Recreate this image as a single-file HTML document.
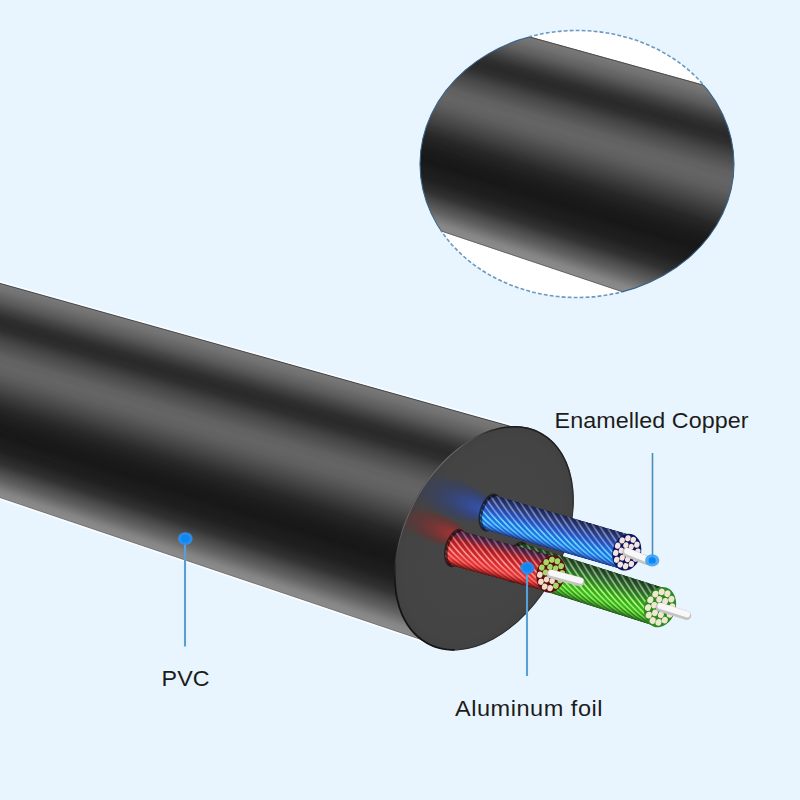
<!DOCTYPE html><html><head><meta charset="utf-8"><style>html,body{margin:0;padding:0;background:#e9f5fe;}svg{display:block}text{font-family:"Liberation Sans",sans-serif;}</style></head><body>
<svg width="800" height="800" viewBox="0 0 800 800">
<defs>
<clipPath id="body"><polygon points="-5,281.6 514,426.9 452,652 -5,496.3"/></clipPath>
<clipPath id="inset"><ellipse cx="577" cy="164" rx="157" ry="133.5"/></clipPath>
<radialGradient id="faceg" cx="0.5" cy="0.5" r="0.5"><stop offset="0" stop-color="#464646"/><stop offset="0.9" stop-color="#444444"/><stop offset="1" stop-color="#414141"/></radialGradient>
<radialGradient id="glowB" cx="0.6" cy="0.5" r="0.6" fx="0.92" fy="0.5"><stop offset="0" stop-color="#3358c8" stop-opacity="0.9"/><stop offset="0.3" stop-color="#2e4ca8" stop-opacity="0.7"/><stop offset="0.65" stop-color="#2a3f88" stop-opacity="0.35"/><stop offset="1" stop-color="#283c80" stop-opacity="0"/></radialGradient>
<radialGradient id="glowR" cx="0.6" cy="0.5" r="0.6" fx="0.92" fy="0.5"><stop offset="0" stop-color="#d03232" stop-opacity="0.85"/><stop offset="0.3" stop-color="#b02a2a" stop-opacity="0.62"/><stop offset="0.65" stop-color="#8a2424" stop-opacity="0.35"/><stop offset="1" stop-color="#802020" stop-opacity="0"/></radialGradient>
<radialGradient id="dotg" cx="0.5" cy="0.5" r="0.5"><stop offset="0.45" stop-color="#1f86ea"/><stop offset="0.6" stop-color="#3a98ee" stop-opacity="0.8"/><stop offset="1" stop-color="#5aaaf0" stop-opacity="0.35"/></radialGradient>
</defs>
<rect width="800" height="800" fill="#e9f5fe"/>
<g clip-path="url(#inset)">
<rect x="400" y="20" width="360" height="300" fill="#ffffff"/>
<polygon points="400.0,0.7 760.0,100.4 760.0,103.4 400.0,3.4" fill="#797979"/>
<polygon points="400.0,2.5 760.0,102.4 760.0,105.3 400.0,5.2" fill="#777777"/>
<polygon points="400.0,4.3 760.0,104.4 760.0,107.3 400.0,7.0" fill="#747474"/>
<polygon points="400.0,6.1 760.0,106.4 760.0,109.3 400.0,8.8" fill="#727272"/>
<polygon points="400.0,7.9 760.0,108.4 760.0,111.3 400.0,10.6" fill="#6f6f6f"/>
<polygon points="400.0,9.7 760.0,110.3 760.0,113.3 400.0,12.4" fill="#6b6b6b"/>
<polygon points="400.0,11.6 760.0,112.3 760.0,115.3 400.0,14.2" fill="#676767"/>
<polygon points="400.0,13.4 760.0,114.3 760.0,117.2 400.0,16.0" fill="#646464"/>
<polygon points="400.0,15.2 760.0,116.3 760.0,119.2 400.0,17.8" fill="#606060"/>
<polygon points="400.0,17.0 760.0,118.3 760.0,121.2 400.0,19.7" fill="#5c5c5c"/>
<polygon points="400.0,18.8 760.0,120.2 760.0,123.2 400.0,21.5" fill="#575757"/>
<polygon points="400.0,20.6 760.0,122.2 760.0,125.2 400.0,23.3" fill="#525252"/>
<polygon points="400.0,22.4 760.0,124.2 760.0,127.1 400.0,25.1" fill="#4d4d4d"/>
<polygon points="400.0,24.2 760.0,126.2 760.0,129.1 400.0,26.9" fill="#474747"/>
<polygon points="400.0,26.0 760.0,128.2 760.0,131.1 400.0,28.7" fill="#434343"/>
<polygon points="400.0,27.8 760.0,130.2 760.0,133.1 400.0,30.5" fill="#3e3e3e"/>
<polygon points="400.0,29.6 760.0,132.1 760.0,135.1 400.0,32.3" fill="#3a3a3a"/>
<polygon points="400.0,31.4 760.0,134.1 760.0,137.0 400.0,34.1" fill="#353535"/>
<polygon points="400.0,33.2 760.0,136.1 760.0,139.0 400.0,35.9" fill="#313131"/>
<polygon points="400.0,35.1 760.0,138.1 760.0,141.0 400.0,37.7" fill="#2e2e2e"/>
<polygon points="400.0,36.9 760.0,140.1 760.0,143.0 400.0,39.5" fill="#2d2d2d"/>
<polygon points="400.0,38.7 760.0,142.0 760.0,145.0 400.0,41.3" fill="#2b2b2b"/>
<polygon points="400.0,40.5 760.0,144.0 760.0,147.0 400.0,43.1" fill="#2a2a2a"/>
<polygon points="400.0,42.3 760.0,146.0 760.0,148.9 400.0,45.0" fill="#2b2b2b"/>
<polygon points="400.0,44.1 760.0,148.0 760.0,150.9 400.0,46.8" fill="#2d2d2d"/>
<polygon points="400.0,45.9 760.0,150.0 760.0,152.9 400.0,48.6" fill="#2e2e2e"/>
<polygon points="400.0,47.7 760.0,151.9 760.0,154.9 400.0,50.4" fill="#303030"/>
<polygon points="400.0,49.5 760.0,153.9 760.0,156.9 400.0,52.2" fill="#343434"/>
<polygon points="400.0,51.3 760.0,155.9 760.0,158.8 400.0,54.0" fill="#383838"/>
<polygon points="400.0,53.1 760.0,157.9 760.0,160.8 400.0,55.8" fill="#3c3c3c"/>
<polygon points="400.0,54.9 760.0,159.9 760.0,162.8 400.0,57.6" fill="#404040"/>
<polygon points="400.0,56.7 760.0,161.9 760.0,164.8 400.0,59.4" fill="#444444"/>
<polygon points="400.0,58.5 760.0,163.8 760.0,166.8 400.0,61.2" fill="#484848"/>
<polygon points="400.0,60.4 760.0,165.8 760.0,168.7 400.0,63.0" fill="#4b4b4b"/>
<polygon points="400.0,62.2 760.0,167.8 760.0,170.7 400.0,64.8" fill="#4e4e4e"/>
<polygon points="400.0,64.0 760.0,169.8 760.0,172.7 400.0,66.6" fill="#515151"/>
<polygon points="400.0,65.8 760.0,171.8 760.0,174.7 400.0,68.5" fill="#545454"/>
<polygon points="400.0,67.6 760.0,173.7 760.0,176.7 400.0,70.3" fill="#575757"/>
<polygon points="400.0,69.4 760.0,175.7 760.0,178.7 400.0,72.1" fill="#5a5a5a"/>
<polygon points="400.0,71.2 760.0,177.7 760.0,180.6 400.0,73.9" fill="#5d5d5d"/>
<polygon points="400.0,73.0 760.0,179.7 760.0,182.6 400.0,75.7" fill="#606060"/>
<polygon points="400.0,74.8 760.0,181.7 760.0,184.6 400.0,77.5" fill="#626262"/>
<polygon points="400.0,76.6 760.0,183.6 760.0,186.6 400.0,79.3" fill="#626262"/>
<polygon points="400.0,78.4 760.0,185.6 760.0,188.6 400.0,81.1" fill="#636363"/>
<polygon points="400.0,80.2 760.0,187.6 760.0,190.5 400.0,82.9" fill="#646464"/>
<polygon points="400.0,82.0 760.0,189.6 760.0,192.5 400.0,84.7" fill="#656565"/>
<polygon points="400.0,83.9 760.0,191.6 760.0,194.5 400.0,86.5" fill="#646464"/>
<polygon points="400.0,85.7 760.0,193.6 760.0,196.5 400.0,88.3" fill="#636363"/>
<polygon points="400.0,87.5 760.0,195.5 760.0,198.5 400.0,90.1" fill="#626262"/>
<polygon points="400.0,89.3 760.0,197.5 760.0,200.5 400.0,91.9" fill="#616161"/>
<polygon points="400.0,91.1 760.0,199.5 760.0,202.4 400.0,93.8" fill="#606060"/>
<polygon points="400.0,92.9 760.0,201.5 760.0,204.4 400.0,95.6" fill="#5d5d5d"/>
<polygon points="400.0,94.7 760.0,203.5 760.0,206.4 400.0,97.4" fill="#5b5b5b"/>
<polygon points="400.0,96.5 760.0,205.4 760.0,208.4 400.0,99.2" fill="#595959"/>
<polygon points="400.0,98.3 760.0,207.4 760.0,210.4 400.0,101.0" fill="#565656"/>
<polygon points="400.0,100.1 760.0,209.4 760.0,212.3 400.0,102.8" fill="#535353"/>
<polygon points="400.0,101.9 760.0,211.4 760.0,214.3 400.0,104.6" fill="#505050"/>
<polygon points="400.0,103.7 760.0,213.4 760.0,216.3 400.0,106.4" fill="#4d4d4d"/>
<polygon points="400.0,105.5 760.0,215.4 760.0,218.3 400.0,108.2" fill="#4a4a4a"/>
<polygon points="400.0,107.3 760.0,217.3 760.0,220.3 400.0,110.0" fill="#474747"/>
<polygon points="400.0,109.2 760.0,219.3 760.0,222.2 400.0,111.8" fill="#444444"/>
<polygon points="400.0,111.0 760.0,221.3 760.0,224.2 400.0,113.6" fill="#414141"/>
<polygon points="400.0,112.8 760.0,223.3 760.0,226.2 400.0,115.4" fill="#3e3e3e"/>
<polygon points="400.0,114.6 760.0,225.3 760.0,228.2 400.0,117.3" fill="#3a3a3a"/>
<polygon points="400.0,116.4 760.0,227.2 760.0,230.2 400.0,119.1" fill="#373737"/>
<polygon points="400.0,118.2 760.0,229.2 760.0,232.2 400.0,120.9" fill="#343434"/>
<polygon points="400.0,120.0 760.0,231.2 760.0,234.1 400.0,122.7" fill="#313131"/>
<polygon points="400.0,121.8 760.0,233.2 760.0,236.1 400.0,124.5" fill="#2e2e2e"/>
<polygon points="400.0,123.6 760.0,235.2 760.0,238.1 400.0,126.3" fill="#2b2b2b"/>
<polygon points="400.0,125.4 760.0,237.1 760.0,240.1 400.0,128.1" fill="#282828"/>
<polygon points="400.0,127.2 760.0,239.1 760.0,242.1 400.0,129.9" fill="#262626"/>
<polygon points="400.0,129.0 760.0,241.1 760.0,244.0 400.0,131.7" fill="#252525"/>
<polygon points="400.0,130.8 760.0,243.1 760.0,246.0 400.0,133.5" fill="#232323"/>
<polygon points="400.0,132.6 760.0,245.1 760.0,248.0 400.0,135.3" fill="#212121"/>
<polygon points="400.0,134.5 760.0,247.1 760.0,250.0 400.0,137.1" fill="#202020"/>
<polygon points="400.0,136.3 760.0,249.0 760.0,252.0 400.0,138.9" fill="#1e1e1e"/>
<polygon points="400.0,138.1 760.0,251.0 760.0,253.9 400.0,140.7" fill="#1d1d1d"/>
<polygon points="400.0,139.9 760.0,253.0 760.0,255.9 400.0,142.6" fill="#1c1c1c"/>
<polygon points="400.0,141.7 760.0,255.0 760.0,257.9 400.0,144.4" fill="#1b1b1b"/>
<polygon points="400.0,143.5 760.0,257.0 760.0,259.9 400.0,146.2" fill="#1a1a1a"/>
<polygon points="400.0,145.3 760.0,258.9 760.0,261.9 400.0,148.0" fill="#1a1a1a"/>
<polygon points="400.0,147.1 760.0,260.9 760.0,263.9 400.0,149.8" fill="#191919"/>
<polygon points="400.0,148.9 760.0,262.9 760.0,265.8 400.0,151.6" fill="#191919"/>
<polygon points="400.0,150.7 760.0,264.9 760.0,267.8 400.0,153.4" fill="#181818"/>
<polygon points="400.0,152.5 760.0,266.9 760.0,269.8 400.0,155.2" fill="#181818"/>
<polygon points="400.0,154.3 760.0,268.8 760.0,271.8 400.0,157.0" fill="#191919"/>
<polygon points="400.0,156.1 760.0,270.8 760.0,273.8 400.0,158.8" fill="#1a1a1a"/>
<polygon points="400.0,158.0 760.0,272.8 760.0,275.7 400.0,160.6" fill="#1b1b1b"/>
<polygon points="400.0,159.8 760.0,274.8 760.0,277.7 400.0,162.4" fill="#1c1c1c"/>
<polygon points="400.0,161.6 760.0,276.8 760.0,279.7 400.0,164.2" fill="#1d1d1d"/>
<polygon points="400.0,163.4 760.0,278.8 760.0,281.7 400.0,166.0" fill="#1d1d1d"/>
<polygon points="400.0,165.2 760.0,280.7 760.0,283.7 400.0,167.9" fill="#1e1e1e"/>
<polygon points="400.0,167.0 760.0,282.7 760.0,285.6 400.0,169.7" fill="#1f1f1f"/>
<polygon points="400.0,168.8 760.0,284.7 760.0,287.6 400.0,171.5" fill="#202020"/>
<polygon points="400.0,170.6 760.0,286.7 760.0,289.6 400.0,173.3" fill="#222222"/>
<polygon points="400.0,172.4 760.0,288.7 760.0,291.6 400.0,175.1" fill="#252525"/>
<polygon points="400.0,174.2 760.0,290.6 760.0,293.6 400.0,176.9" fill="#272727"/>
<polygon points="400.0,176.0 760.0,292.6 760.0,295.6 400.0,178.7" fill="#2a2a2a"/>
<polygon points="400.0,177.8 760.0,294.6 760.0,297.5 400.0,180.5" fill="#2c2c2c"/>
<polygon points="400.0,179.6 760.0,296.6 760.0,299.5 400.0,182.3" fill="#2f2f2f"/>
<polygon points="400.0,181.4 760.0,298.6 760.0,301.5 400.0,184.1" fill="#313131"/>
<polygon points="400.0,183.3 760.0,300.5 760.0,303.5 400.0,185.9" fill="#363636"/>
<polygon points="400.0,185.1 760.0,302.5 760.0,305.5 400.0,187.7" fill="#3b3b3b"/>
<polygon points="400.0,186.9 760.0,304.5 760.0,307.4 400.0,189.5" fill="#414141"/>
<polygon points="400.0,188.7 760.0,306.5 760.0,309.4 400.0,191.4" fill="#464646"/>
<polygon points="400.0,190.5 760.0,308.5 760.0,311.4 400.0,193.2" fill="#4b4b4b"/>
<polygon points="400.0,192.3 760.0,310.5 760.0,313.4 400.0,195.0" fill="#505050"/>
<polygon points="400.0,194.1 760.0,312.4 760.0,315.4 400.0,196.8" fill="#555555"/>
<polygon points="400.0,195.9 760.0,314.4 760.0,317.4 400.0,198.6" fill="#595959"/>
<polygon points="400.0,197.7 760.0,316.4 760.0,319.3 400.0,200.4" fill="#5e5e5e"/>
<polygon points="400.0,199.5 760.0,318.4 760.0,321.3 400.0,202.2" fill="#636363"/>
<polygon points="400.0,201.3 760.0,320.4 760.0,323.3 400.0,204.0" fill="#696969"/>
<polygon points="400.0,203.1 760.0,322.3 760.0,325.3 400.0,205.8" fill="#6f6f6f"/>
<polygon points="400.0,204.9 760.0,324.3 760.0,327.3 400.0,207.6" fill="#757575"/>
<polygon points="400.0,206.8 760.0,326.3 760.0,329.2 400.0,209.4" fill="#7b7b7b"/>
<polygon points="400.0,208.6 760.0,328.3 760.0,331.2 400.0,211.2" fill="#818181"/>
<polygon points="400.0,210.4 760.0,330.3 760.0,333.2 400.0,213.0" fill="#868686"/>
<polygon points="400.0,212.2 760.0,332.3 760.0,335.2 400.0,214.8" fill="#888888"/>
<polygon points="400.0,214.0 760.0,334.2 760.0,337.2 400.0,216.7" fill="#8a8a8a"/>
<polygon points="400.0,215.8 760.0,336.2 760.0,338.2 400.0,217.6" fill="#8b8b8b"/>
<line x1="400" y1="1.1" x2="760" y2="100.8" stroke="#3e3e3e" stroke-width="1" opacity="0.8"/>
<line x1="400" y1="217.2" x2="760" y2="337.8" stroke="#4a4a4a" stroke-width="1" opacity="0.6"/>
</g>
<defs><clipPath id="iband"><polygon points="380,-4.8 780,106.0 780,344.9 380,210.9"/></clipPath>
<clipPath id="ioff"><polygon points="380,0 780,0 780,106.0 380,-4.8"/><polygon points="380,210.9 780,344.9 780,330 380,330"/></clipPath></defs>
<ellipse cx="577" cy="164" rx="157" ry="133.5" fill="none" stroke="#6a98c0" stroke-width="1.6" stroke-dasharray="3.8 2.2" clip-path="url(#ioff)"/>
<ellipse cx="577" cy="164" rx="157" ry="133.5" fill="none" stroke="#36648c" stroke-width="1.1" clip-path="url(#iband)"/>
<g clip-path="url(#body)">
<polygon points="-5.0,281.6 600.0,451.0 600.0,454.1 -5.0,284.2" fill="#797979"/>
<polygon points="-5.0,283.4 600.0,453.1 600.0,456.2 -5.0,286.0" fill="#777777"/>
<polygon points="-5.0,285.2 600.0,455.2 600.0,458.2 -5.0,287.8" fill="#747474"/>
<polygon points="-5.0,287.0 600.0,457.2 600.0,460.3 -5.0,289.6" fill="#727272"/>
<polygon points="-5.0,288.8 600.0,459.3 600.0,462.4 -5.0,291.4" fill="#6f6f6f"/>
<polygon points="-5.0,290.5 600.0,461.4 600.0,464.5 -5.0,293.2" fill="#6b6b6b"/>
<polygon points="-5.0,292.3 600.0,463.5 600.0,466.5 -5.0,295.0" fill="#676767"/>
<polygon points="-5.0,294.1 600.0,465.5 600.0,468.6 -5.0,296.8" fill="#646464"/>
<polygon points="-5.0,295.9 600.0,467.6 600.0,470.7 -5.0,298.6" fill="#606060"/>
<polygon points="-5.0,297.7 600.0,469.7 600.0,472.8 -5.0,300.4" fill="#5c5c5c"/>
<polygon points="-5.0,299.5 600.0,471.8 600.0,474.8 -5.0,302.1" fill="#575757"/>
<polygon points="-5.0,301.3 600.0,473.8 600.0,476.9 -5.0,303.9" fill="#525252"/>
<polygon points="-5.0,303.1 600.0,475.9 600.0,479.0 -5.0,305.7" fill="#4d4d4d"/>
<polygon points="-5.0,304.9 600.0,478.0 600.0,481.1 -5.0,307.5" fill="#474747"/>
<polygon points="-5.0,306.7 600.0,480.1 600.0,483.1 -5.0,309.3" fill="#434343"/>
<polygon points="-5.0,308.4 600.0,482.1 600.0,485.2 -5.0,311.1" fill="#3e3e3e"/>
<polygon points="-5.0,310.2 600.0,484.2 600.0,487.3 -5.0,312.9" fill="#3a3a3a"/>
<polygon points="-5.0,312.0 600.0,486.3 600.0,489.4 -5.0,314.7" fill="#353535"/>
<polygon points="-5.0,313.8 600.0,488.4 600.0,491.5 -5.0,316.5" fill="#313131"/>
<polygon points="-5.0,315.6 600.0,490.5 600.0,493.5 -5.0,318.2" fill="#2e2e2e"/>
<polygon points="-5.0,317.4 600.0,492.5 600.0,495.6 -5.0,320.0" fill="#2d2d2d"/>
<polygon points="-5.0,319.2 600.0,494.6 600.0,497.7 -5.0,321.8" fill="#2b2b2b"/>
<polygon points="-5.0,321.0 600.0,496.7 600.0,499.8 -5.0,323.6" fill="#2a2a2a"/>
<polygon points="-5.0,322.8 600.0,498.8 600.0,501.8 -5.0,325.4" fill="#2b2b2b"/>
<polygon points="-5.0,324.5 600.0,500.8 600.0,503.9 -5.0,327.2" fill="#2d2d2d"/>
<polygon points="-5.0,326.3 600.0,502.9 600.0,506.0 -5.0,329.0" fill="#2e2e2e"/>
<polygon points="-5.0,328.1 600.0,505.0 600.0,508.1 -5.0,330.8" fill="#303030"/>
<polygon points="-5.0,329.9 600.0,507.1 600.0,510.1 -5.0,332.6" fill="#343434"/>
<polygon points="-5.0,331.7 600.0,509.1 600.0,512.2 -5.0,334.3" fill="#383838"/>
<polygon points="-5.0,333.5 600.0,511.2 600.0,514.3 -5.0,336.1" fill="#3c3c3c"/>
<polygon points="-5.0,335.3 600.0,513.3 600.0,516.4 -5.0,337.9" fill="#404040"/>
<polygon points="-5.0,337.1 600.0,515.4 600.0,518.5 -5.0,339.7" fill="#444444"/>
<polygon points="-5.0,338.9 600.0,517.5 600.0,520.5 -5.0,341.5" fill="#484848"/>
<polygon points="-5.0,340.6 600.0,519.5 600.0,522.6 -5.0,343.3" fill="#4b4b4b"/>
<polygon points="-5.0,342.4 600.0,521.6 600.0,524.7 -5.0,345.1" fill="#4e4e4e"/>
<polygon points="-5.0,344.2 600.0,523.7 600.0,526.8 -5.0,346.9" fill="#515151"/>
<polygon points="-5.0,346.0 600.0,525.8 600.0,528.8 -5.0,348.7" fill="#545454"/>
<polygon points="-5.0,347.8 600.0,527.8 600.0,530.9 -5.0,350.5" fill="#575757"/>
<polygon points="-5.0,349.6 600.0,529.9 600.0,533.0 -5.0,352.2" fill="#5a5a5a"/>
<polygon points="-5.0,351.4 600.0,532.0 600.0,535.1 -5.0,354.0" fill="#5d5d5d"/>
<polygon points="-5.0,353.2 600.0,534.1 600.0,537.1 -5.0,355.8" fill="#606060"/>
<polygon points="-5.0,355.0 600.0,536.1 600.0,539.2 -5.0,357.6" fill="#626262"/>
<polygon points="-5.0,356.8 600.0,538.2 600.0,541.3 -5.0,359.4" fill="#626262"/>
<polygon points="-5.0,358.5 600.0,540.3 600.0,543.4 -5.0,361.2" fill="#636363"/>
<polygon points="-5.0,360.3 600.0,542.4 600.0,545.4 -5.0,363.0" fill="#646464"/>
<polygon points="-5.0,362.1 600.0,544.5 600.0,547.5 -5.0,364.8" fill="#656565"/>
<polygon points="-5.0,363.9 600.0,546.5 600.0,549.6 -5.0,366.6" fill="#646464"/>
<polygon points="-5.0,365.7 600.0,548.6 600.0,551.7 -5.0,368.3" fill="#636363"/>
<polygon points="-5.0,367.5 600.0,550.7 600.0,553.8 -5.0,370.1" fill="#626262"/>
<polygon points="-5.0,369.3 600.0,552.8 600.0,555.8 -5.0,371.9" fill="#616161"/>
<polygon points="-5.0,371.1 600.0,554.8 600.0,557.9 -5.0,373.7" fill="#606060"/>
<polygon points="-5.0,372.9 600.0,556.9 600.0,560.0 -5.0,375.5" fill="#5d5d5d"/>
<polygon points="-5.0,374.6 600.0,559.0 600.0,562.1 -5.0,377.3" fill="#5b5b5b"/>
<polygon points="-5.0,376.4 600.0,561.1 600.0,564.1 -5.0,379.1" fill="#595959"/>
<polygon points="-5.0,378.2 600.0,563.1 600.0,566.2 -5.0,380.9" fill="#565656"/>
<polygon points="-5.0,380.0 600.0,565.2 600.0,568.3 -5.0,382.7" fill="#535353"/>
<polygon points="-5.0,381.8 600.0,567.3 600.0,570.4 -5.0,384.4" fill="#505050"/>
<polygon points="-5.0,383.6 600.0,569.4 600.0,572.4 -5.0,386.2" fill="#4d4d4d"/>
<polygon points="-5.0,385.4 600.0,571.4 600.0,574.5 -5.0,388.0" fill="#4a4a4a"/>
<polygon points="-5.0,387.2 600.0,573.5 600.0,576.6 -5.0,389.8" fill="#474747"/>
<polygon points="-5.0,389.0 600.0,575.6 600.0,578.7 -5.0,391.6" fill="#444444"/>
<polygon points="-5.0,390.7 600.0,577.7 600.0,580.8 -5.0,393.4" fill="#414141"/>
<polygon points="-5.0,392.5 600.0,579.8 600.0,582.8 -5.0,395.2" fill="#3e3e3e"/>
<polygon points="-5.0,394.3 600.0,581.8 600.0,584.9 -5.0,397.0" fill="#3a3a3a"/>
<polygon points="-5.0,396.1 600.0,583.9 600.0,587.0 -5.0,398.8" fill="#373737"/>
<polygon points="-5.0,397.9 600.0,586.0 600.0,589.1 -5.0,400.6" fill="#343434"/>
<polygon points="-5.0,399.7 600.0,588.1 600.0,591.1 -5.0,402.3" fill="#313131"/>
<polygon points="-5.0,401.5 600.0,590.1 600.0,593.2 -5.0,404.1" fill="#2e2e2e"/>
<polygon points="-5.0,403.3 600.0,592.2 600.0,595.3 -5.0,405.9" fill="#2b2b2b"/>
<polygon points="-5.0,405.1 600.0,594.3 600.0,597.4 -5.0,407.7" fill="#282828"/>
<polygon points="-5.0,406.9 600.0,596.4 600.0,599.4 -5.0,409.5" fill="#262626"/>
<polygon points="-5.0,408.6 600.0,598.4 600.0,601.5 -5.0,411.3" fill="#252525"/>
<polygon points="-5.0,410.4 600.0,600.5 600.0,603.6 -5.0,413.1" fill="#232323"/>
<polygon points="-5.0,412.2 600.0,602.6 600.0,605.7 -5.0,414.9" fill="#212121"/>
<polygon points="-5.0,414.0 600.0,604.7 600.0,607.7 -5.0,416.7" fill="#202020"/>
<polygon points="-5.0,415.8 600.0,606.8 600.0,609.8 -5.0,418.4" fill="#1e1e1e"/>
<polygon points="-5.0,417.6 600.0,608.8 600.0,611.9 -5.0,420.2" fill="#1d1d1d"/>
<polygon points="-5.0,419.4 600.0,610.9 600.0,614.0 -5.0,422.0" fill="#1c1c1c"/>
<polygon points="-5.0,421.2 600.0,613.0 600.0,616.1 -5.0,423.8" fill="#1b1b1b"/>
<polygon points="-5.0,423.0 600.0,615.1 600.0,618.1 -5.0,425.6" fill="#1a1a1a"/>
<polygon points="-5.0,424.7 600.0,617.1 600.0,620.2 -5.0,427.4" fill="#1a1a1a"/>
<polygon points="-5.0,426.5 600.0,619.2 600.0,622.3 -5.0,429.2" fill="#191919"/>
<polygon points="-5.0,428.3 600.0,621.3 600.0,624.4 -5.0,431.0" fill="#191919"/>
<polygon points="-5.0,430.1 600.0,623.4 600.0,626.4 -5.0,432.8" fill="#181818"/>
<polygon points="-5.0,431.9 600.0,625.4 600.0,628.5 -5.0,434.5" fill="#181818"/>
<polygon points="-5.0,433.7 600.0,627.5 600.0,630.6 -5.0,436.3" fill="#191919"/>
<polygon points="-5.0,435.5 600.0,629.6 600.0,632.7 -5.0,438.1" fill="#1a1a1a"/>
<polygon points="-5.0,437.3 600.0,631.7 600.0,634.7 -5.0,439.9" fill="#1b1b1b"/>
<polygon points="-5.0,439.1 600.0,633.7 600.0,636.8 -5.0,441.7" fill="#1c1c1c"/>
<polygon points="-5.0,440.8 600.0,635.8 600.0,638.9 -5.0,443.5" fill="#1d1d1d"/>
<polygon points="-5.0,442.6 600.0,637.9 600.0,641.0 -5.0,445.3" fill="#1d1d1d"/>
<polygon points="-5.0,444.4 600.0,640.0 600.0,643.1 -5.0,447.1" fill="#1e1e1e"/>
<polygon points="-5.0,446.2 600.0,642.1 600.0,645.1 -5.0,448.9" fill="#1f1f1f"/>
<polygon points="-5.0,448.0 600.0,644.1 600.0,647.2 -5.0,450.7" fill="#202020"/>
<polygon points="-5.0,449.8 600.0,646.2 600.0,649.3 -5.0,452.4" fill="#222222"/>
<polygon points="-5.0,451.6 600.0,648.3 600.0,651.4 -5.0,454.2" fill="#252525"/>
<polygon points="-5.0,453.4 600.0,650.4 600.0,653.4 -5.0,456.0" fill="#272727"/>
<polygon points="-5.0,455.2 600.0,652.4 600.0,655.5 -5.0,457.8" fill="#2a2a2a"/>
<polygon points="-5.0,457.0 600.0,654.5 600.0,657.6 -5.0,459.6" fill="#2c2c2c"/>
<polygon points="-5.0,458.7 600.0,656.6 600.0,659.7 -5.0,461.4" fill="#2f2f2f"/>
<polygon points="-5.0,460.5 600.0,658.7 600.0,661.7 -5.0,463.2" fill="#313131"/>
<polygon points="-5.0,462.3 600.0,660.7 600.0,663.8 -5.0,465.0" fill="#363636"/>
<polygon points="-5.0,464.1 600.0,662.8 600.0,665.9 -5.0,466.8" fill="#3b3b3b"/>
<polygon points="-5.0,465.9 600.0,664.9 600.0,668.0 -5.0,468.5" fill="#414141"/>
<polygon points="-5.0,467.7 600.0,667.0 600.0,670.0 -5.0,470.3" fill="#464646"/>
<polygon points="-5.0,469.5 600.0,669.1 600.0,672.1 -5.0,472.1" fill="#4b4b4b"/>
<polygon points="-5.0,471.3 600.0,671.1 600.0,674.2 -5.0,473.9" fill="#505050"/>
<polygon points="-5.0,473.1 600.0,673.2 600.0,676.3 -5.0,475.7" fill="#555555"/>
<polygon points="-5.0,474.8 600.0,675.3 600.0,678.4 -5.0,477.5" fill="#595959"/>
<polygon points="-5.0,476.6 600.0,677.4 600.0,680.4 -5.0,479.3" fill="#5e5e5e"/>
<polygon points="-5.0,478.4 600.0,679.4 600.0,682.5 -5.0,481.1" fill="#636363"/>
<polygon points="-5.0,480.2 600.0,681.5 600.0,684.6 -5.0,482.9" fill="#696969"/>
<polygon points="-5.0,482.0 600.0,683.6 600.0,686.7 -5.0,484.6" fill="#6f6f6f"/>
<polygon points="-5.0,483.8 600.0,685.7 600.0,688.7 -5.0,486.4" fill="#757575"/>
<polygon points="-5.0,485.6 600.0,687.7 600.0,690.8 -5.0,488.2" fill="#7b7b7b"/>
<polygon points="-5.0,487.4 600.0,689.8 600.0,692.9 -5.0,490.0" fill="#818181"/>
<polygon points="-5.0,489.2 600.0,691.9 600.0,695.0 -5.0,491.8" fill="#868686"/>
<polygon points="-5.0,490.9 600.0,694.0 600.0,697.0 -5.0,493.6" fill="#888888"/>
<polygon points="-5.0,492.7 600.0,696.0 600.0,699.1 -5.0,495.4" fill="#8a8a8a"/>
<polygon points="-5.0,494.5 600.0,698.1 600.0,700.2 -5.0,496.3" fill="#8b8b8b"/>
</g>
<line x1="-5" y1="280.5" x2="512" y2="425.3" stroke="#ffffff" stroke-width="1.2" opacity="0.9"/>
<line x1="-5" y1="282.0" x2="512" y2="426.8" stroke="#3a3a3a" stroke-width="1" opacity="0.8"/>
<line x1="-5" y1="497.4" x2="452" y2="651.4" stroke="#ffffff" stroke-width="1.2" opacity="0.9"/>
<line x1="-5" y1="495.9" x2="452" y2="649.9" stroke="#4a4a4a" stroke-width="0.8" opacity="0.45"/>
<defs><filter id="blur8" x="-30%" y="-30%" width="160%" height="160%"><feGaussianBlur stdDeviation="9"/></filter><clipPath id="lowside"><polygon points="300,555 470,555 470,700 300,700"/></clipPath><linearGradient id="lowfade" x1="0" y1="545" x2="0" y2="600" gradientUnits="userSpaceOnUse"><stop offset="0" stop-color="#000" stop-opacity="0"/><stop offset="1" stop-color="#000" stop-opacity="1"/></linearGradient><mask id="lowmask"><rect x="300" y="540" width="200" height="160" fill="url(#lowfade)"/></mask></defs>
<g clip-path="url(#body)"><g mask="url(#lowmask)"><ellipse cx="0" cy="0" rx="120.0" ry="79.1" fill="#000" opacity="0.55" filter="url(#blur8)" transform="translate(480.0 537.3) rotate(118.17)"/></g></g>
<g transform="translate(484.0 538.3) rotate(118.17)">
<ellipse cx="0" cy="0" rx="119.5" ry="78.6" fill="url(#faceg)" stroke="#2a2a2a" stroke-width="1"/>
</g>
<defs><clipPath id="facec"><ellipse cx="0" cy="0" rx="119.0" ry="78.1" transform="translate(484.0 538.3) rotate(118.17)"/></clipPath></defs>
<g clip-path="url(#facec)">
<ellipse cx="452" cy="498" rx="44" ry="19" fill="url(#glowB)" transform="rotate(20 452 498)"/>
<ellipse cx="431" cy="526" rx="40" ry="15" fill="url(#glowR)" transform="rotate(22 431 526)"/>
</g>
<defs><linearGradient id="rimg" x1="500" y1="428" x2="396" y2="580" gradientUnits="userSpaceOnUse"><stop offset="0" stop-color="#808080" stop-opacity="0.2"/><stop offset="0.3" stop-color="#858585" stop-opacity="0.75"/><stop offset="0.75" stop-color="#7a7a7a" stop-opacity="0.7"/><stop offset="1" stop-color="#707070" stop-opacity="0"/></linearGradient></defs>
<path d="M394.9,577.5 L394.9,573.9 L395.0,570.2 L395.2,566.4 L395.5,562.6 L396.0,558.8 L396.5,555.0 L397.2,551.1 L398.0,547.3 L398.8,543.4 L399.8,539.5 L400.9,535.6 L402.0,531.7 L403.3,527.8 L404.7,524.0 L406.2,520.1 L407.7,516.3 L409.4,512.5 L411.1,508.7 L413.0,505.0 L414.9,501.3 L416.9,497.6 L419.0,494.0 L421.2,490.5 L423.4,487.0 L425.7,483.6 L428.1,480.2 L430.6,476.9 L433.1,473.7 L435.7,470.6 L438.3,467.6 L441.0,464.6 L443.8,461.7 L446.6,458.9 L449.4,456.2 L452.3,453.7 L455.2,451.2 L458.2,448.8 L461.2,446.5 L464.2,444.4 L467.3,442.3 L470.3,440.4 L473.4,438.6 L476.5,436.9 L479.6,435.4 L482.7,433.9 L485.8,432.6 L488.9,431.5 L492.0,430.4 L495.1,429.5 L498.2,428.7 L501.3,428.1 L504.3,427.5 L507.3,427.2" fill="none" stroke="url(#rimg)" stroke-width="1.1"/>
<defs><linearGradient id="rimd" x1="396" y1="556" x2="440" y2="650" gradientUnits="userSpaceOnUse"><stop offset="0" stop-color="#111" stop-opacity="0"/><stop offset="0.25" stop-color="#111" stop-opacity="0.9"/><stop offset="1" stop-color="#111" stop-opacity="0.9"/></linearGradient></defs>
<path d="M454.7,649.8 L451.8,649.8 L448.9,649.6 L446.1,649.3 L443.3,648.9 L440.5,648.3 L437.8,647.6 L435.2,646.8 L432.6,645.8 L430.1,644.7 L427.7,643.5 L425.3,642.1 L423.0,640.6 L420.8,639.0 L418.6,637.3 L416.5,635.4 L414.5,633.5 L412.6,631.4 L410.8,629.2 L409.1,626.9 L407.4,624.5 L405.9,621.9 L404.4,619.3 L403.1,616.6 L401.8,613.8 L400.7,610.9 L399.6,607.9 L398.7,604.8 L397.8,601.6 L397.1,598.4 L396.4,595.1 L395.9,591.7 L395.5,588.2 L395.2,584.7 L395.0,581.2 L394.9,577.5 L394.9,573.9 L395.0,570.2 L395.2,566.4 L395.5,562.6" fill="none" stroke="url(#rimd)" stroke-width="1.8"/>
<defs><linearGradient id="rimt" x1="470" y1="440" x2="574" y2="500" gradientUnits="userSpaceOnUse"><stop offset="0" stop-color="#1a1a1a" stop-opacity="0"/><stop offset="0.2" stop-color="#1a1a1a" stop-opacity="0.9"/><stop offset="0.8" stop-color="#1a1a1a" stop-opacity="0.7"/><stop offset="1" stop-color="#1a1a1a" stop-opacity="0.2"/></linearGradient></defs>
<path d="M467.3,442.3 L470.3,440.4 L473.4,438.6 L476.5,436.9 L479.6,435.4 L482.7,433.9 L485.8,432.6 L488.9,431.5 L492.0,430.4 L495.1,429.5 L498.2,428.7 L501.3,428.1 L504.3,427.5 L507.3,427.2 L510.3,426.9 L513.3,426.8 L516.2,426.8 L519.1,427.0 L521.9,427.3 L524.7,427.7 L527.5,428.3 L530.2,429.0 L532.8,429.8 L535.4,430.8 L537.9,431.9 L540.3,433.1 L542.7,434.5 L545.0,436.0 L547.2,437.6 L549.4,439.3 L551.5,441.2 L553.5,443.1 L555.4,445.2 L557.2,447.4 L558.9,449.7 L560.6,452.1 L562.1,454.7 L563.6,457.3 L564.9,460.0 L566.2,462.8 L567.3,465.7 L568.4,468.7 L569.3,471.8 L570.2,475.0 L570.9,478.2 L571.6,481.5 L572.1,484.9 L572.5,488.4 L572.8,491.9 L573.0,495.4 L573.1,499.1 L573.1,502.7 L573.0,506.4" fill="none" stroke="url(#rimt)" stroke-width="1.5"/>
<g transform="translate(517.0 562.0) rotate(17.50)">
<defs>
<linearGradient id="wb1" x1="0" y1="-19.5" x2="0" y2="19.5" gradientUnits="userSpaceOnUse">
<stop offset="0.00" stop-color="#1a3a1a"/>
<stop offset="0.20" stop-color="#2a5a2a"/>
<stop offset="0.38" stop-color="#2e7a26"/>
<stop offset="0.55" stop-color="#34a024"/>
<stop offset="0.75" stop-color="#3ab82a"/>
<stop offset="0.90" stop-color="#24801a"/>
<stop offset="1.00" stop-color="#0e3a0e"/>
</linearGradient>
<linearGradient id="wh1" x1="0" y1="-19.5" x2="0" y2="19.5" gradientUnits="userSpaceOnUse">
<stop offset="0.00" stop-color="#90b090" stop-opacity="0.50"/>
<stop offset="0.20" stop-color="#a8c8a8" stop-opacity="0.75"/>
<stop offset="0.40" stop-color="#a0e080" stop-opacity="0.85"/>
<stop offset="0.60" stop-color="#b8ff70" stop-opacity="0.95"/>
<stop offset="0.85" stop-color="#90f050" stop-opacity="0.85"/>
<stop offset="1.00" stop-color="#50a030" stop-opacity="0.40"/>
</linearGradient>
<clipPath id="wc1"><path d="M0.0,-19.5 L150.0,-19.5 A13.6,19.5 0 0 1 150.0,19.5 L0.0,19.5 A9.8,19.5 0 0 1 0.0,-19.5 Z"/></clipPath></defs>
<ellipse cx="0.0" cy="0" rx="11.3" ry="21.1" fill="#0a0a0a" opacity="0.6"/>
<g clip-path="url(#wc1)">
<path d="M0.0,-19.5 L150.0,-19.5 A13.6,19.5 0 0 1 150.0,19.5 L0.0,19.5 A9.8,19.5 0 0 1 0.0,-19.5 Z" fill="#052005"/>
<path d="M-78.4,-20.5 C-65.8,-8.8 -39.8,14.6 -8.2,20.5 M-70.2,-20.5 C-57.6,-8.8 -31.6,14.6 0.0,20.5 M-62.0,-20.5 C-49.4,-8.8 -23.4,14.6 8.2,20.5 M-53.8,-20.5 C-41.2,-8.8 -15.2,14.6 16.4,20.5 M-45.6,-20.5 C-33.0,-8.8 -7.0,14.6 24.6,20.5 M-37.4,-20.5 C-24.8,-8.8 1.2,14.6 32.8,20.5 M-29.2,-20.5 C-16.6,-8.8 9.4,14.6 41.0,20.5 M-21.0,-20.5 C-8.4,-8.8 17.6,14.6 49.2,20.5 M-12.8,-20.5 C-0.2,-8.8 25.8,14.6 57.4,20.5 M-4.6,-20.5 C8.0,-8.8 34.0,14.6 65.6,20.5 M3.6,-20.5 C16.2,-8.8 42.2,14.6 73.8,20.5 M11.8,-20.5 C24.4,-8.8 50.4,14.6 82.0,20.5 M20.0,-20.5 C32.6,-8.8 58.6,14.6 90.2,20.5 M28.2,-20.5 C40.8,-8.8 66.8,14.6 98.4,20.5 M36.4,-20.5 C49.0,-8.8 75.0,14.6 106.6,20.5 M44.6,-20.5 C57.2,-8.8 83.2,14.6 114.8,20.5 M52.8,-20.5 C65.4,-8.8 91.4,14.6 123.0,20.5 M61.0,-20.5 C73.6,-8.8 99.6,14.6 131.2,20.5 M69.2,-20.5 C81.8,-8.8 107.8,14.6 139.4,20.5 M77.4,-20.5 C90.0,-8.8 116.0,14.6 147.6,20.5 M85.6,-20.5 C98.2,-8.8 124.2,14.6 155.8,20.5 M93.8,-20.5 C106.4,-8.8 132.4,14.6 164.0,20.5 M102.0,-20.5 C114.6,-8.8 140.6,14.6 172.2,20.5 M110.2,-20.5 C122.8,-8.8 148.8,14.6 180.4,20.5 M118.4,-20.5 C131.0,-8.8 157.0,14.6 188.6,20.5 M126.6,-20.5 C139.2,-8.8 165.2,14.6 196.8,20.5 M134.8,-20.5 C147.4,-8.8 173.4,14.6 205.0,20.5 M143.0,-20.5 C155.6,-8.8 181.6,14.6 213.2,20.5 M151.2,-20.5 C163.8,-8.8 189.8,14.6 221.4,20.5 M159.4,-20.5 C172.0,-8.8 198.0,14.6 229.6,20.5" stroke="url(#wb1)" stroke-width="6.1" fill="none"/>
<path d="M-78.4,-20.5 C-65.8,-8.8 -39.8,14.6 -8.2,20.5 M-70.2,-20.5 C-57.6,-8.8 -31.6,14.6 0.0,20.5 M-62.0,-20.5 C-49.4,-8.8 -23.4,14.6 8.2,20.5 M-53.8,-20.5 C-41.2,-8.8 -15.2,14.6 16.4,20.5 M-45.6,-20.5 C-33.0,-8.8 -7.0,14.6 24.6,20.5 M-37.4,-20.5 C-24.8,-8.8 1.2,14.6 32.8,20.5 M-29.2,-20.5 C-16.6,-8.8 9.4,14.6 41.0,20.5 M-21.0,-20.5 C-8.4,-8.8 17.6,14.6 49.2,20.5 M-12.8,-20.5 C-0.2,-8.8 25.8,14.6 57.4,20.5 M-4.6,-20.5 C8.0,-8.8 34.0,14.6 65.6,20.5 M3.6,-20.5 C16.2,-8.8 42.2,14.6 73.8,20.5 M11.8,-20.5 C24.4,-8.8 50.4,14.6 82.0,20.5 M20.0,-20.5 C32.6,-8.8 58.6,14.6 90.2,20.5 M28.2,-20.5 C40.8,-8.8 66.8,14.6 98.4,20.5 M36.4,-20.5 C49.0,-8.8 75.0,14.6 106.6,20.5 M44.6,-20.5 C57.2,-8.8 83.2,14.6 114.8,20.5 M52.8,-20.5 C65.4,-8.8 91.4,14.6 123.0,20.5 M61.0,-20.5 C73.6,-8.8 99.6,14.6 131.2,20.5 M69.2,-20.5 C81.8,-8.8 107.8,14.6 139.4,20.5 M77.4,-20.5 C90.0,-8.8 116.0,14.6 147.6,20.5 M85.6,-20.5 C98.2,-8.8 124.2,14.6 155.8,20.5 M93.8,-20.5 C106.4,-8.8 132.4,14.6 164.0,20.5 M102.0,-20.5 C114.6,-8.8 140.6,14.6 172.2,20.5 M110.2,-20.5 C122.8,-8.8 148.8,14.6 180.4,20.5 M118.4,-20.5 C131.0,-8.8 157.0,14.6 188.6,20.5 M126.6,-20.5 C139.2,-8.8 165.2,14.6 196.8,20.5 M134.8,-20.5 C147.4,-8.8 173.4,14.6 205.0,20.5 M143.0,-20.5 C155.6,-8.8 181.6,14.6 213.2,20.5 M151.2,-20.5 C163.8,-8.8 189.8,14.6 221.4,20.5 M159.4,-20.5 C172.0,-8.8 198.0,14.6 229.6,20.5" stroke="url(#wh1)" stroke-width="1.6" fill="none" transform="translate(-1.3 -0.8)"/>
<path d="M-78.4,-20.5 C-65.8,-8.8 -39.8,14.6 -8.2,20.5 M-70.2,-20.5 C-57.6,-8.8 -31.6,14.6 0.0,20.5 M-62.0,-20.5 C-49.4,-8.8 -23.4,14.6 8.2,20.5 M-53.8,-20.5 C-41.2,-8.8 -15.2,14.6 16.4,20.5 M-45.6,-20.5 C-33.0,-8.8 -7.0,14.6 24.6,20.5 M-37.4,-20.5 C-24.8,-8.8 1.2,14.6 32.8,20.5 M-29.2,-20.5 C-16.6,-8.8 9.4,14.6 41.0,20.5 M-21.0,-20.5 C-8.4,-8.8 17.6,14.6 49.2,20.5 M-12.8,-20.5 C-0.2,-8.8 25.8,14.6 57.4,20.5 M-4.6,-20.5 C8.0,-8.8 34.0,14.6 65.6,20.5 M3.6,-20.5 C16.2,-8.8 42.2,14.6 73.8,20.5 M11.8,-20.5 C24.4,-8.8 50.4,14.6 82.0,20.5 M20.0,-20.5 C32.6,-8.8 58.6,14.6 90.2,20.5 M28.2,-20.5 C40.8,-8.8 66.8,14.6 98.4,20.5 M36.4,-20.5 C49.0,-8.8 75.0,14.6 106.6,20.5 M44.6,-20.5 C57.2,-8.8 83.2,14.6 114.8,20.5 M52.8,-20.5 C65.4,-8.8 91.4,14.6 123.0,20.5 M61.0,-20.5 C73.6,-8.8 99.6,14.6 131.2,20.5 M69.2,-20.5 C81.8,-8.8 107.8,14.6 139.4,20.5 M77.4,-20.5 C90.0,-8.8 116.0,14.6 147.6,20.5 M85.6,-20.5 C98.2,-8.8 124.2,14.6 155.8,20.5 M93.8,-20.5 C106.4,-8.8 132.4,14.6 164.0,20.5 M102.0,-20.5 C114.6,-8.8 140.6,14.6 172.2,20.5 M110.2,-20.5 C122.8,-8.8 148.8,14.6 180.4,20.5 M118.4,-20.5 C131.0,-8.8 157.0,14.6 188.6,20.5 M126.6,-20.5 C139.2,-8.8 165.2,14.6 196.8,20.5 M134.8,-20.5 C147.4,-8.8 173.4,14.6 205.0,20.5 M143.0,-20.5 C155.6,-8.8 181.6,14.6 213.2,20.5 M151.2,-20.5 C163.8,-8.8 189.8,14.6 221.4,20.5 M159.4,-20.5 C172.0,-8.8 198.0,14.6 229.6,20.5" stroke="url(#wh1)" stroke-width="1.0" fill="none" opacity="0.45" transform="translate(1.5 0.6)"/>
<path d="M0.0,-19.5 A9.8,19.5 0 0 0 0.0,19.5" fill="none" stroke="#000" stroke-opacity="0.55" stroke-width="4"/>
</g>
<ellipse cx="150.0" cy="0" rx="15.6" ry="20.5" fill="#2e8a22"/>
<ellipse cx="161.5" cy="4.0" rx="3.0" ry="3.4" fill="#efe8cf"/>
<ellipse cx="158.4" cy="11.0" rx="3.0" ry="3.4" fill="#efe8cf"/>
<ellipse cx="153.1" cy="15.0" rx="3.0" ry="3.4" fill="#efe8cf"/>
<ellipse cx="147.0" cy="15.0" rx="3.0" ry="3.4" fill="#efe8cf"/>
<ellipse cx="141.6" cy="11.0" rx="3.0" ry="3.4" fill="#efe8cf"/>
<ellipse cx="138.6" cy="4.1" rx="3.0" ry="3.4" fill="#efe8cf"/>
<ellipse cx="138.5" cy="-4.0" rx="3.0" ry="3.4" fill="#efe8cf"/>
<ellipse cx="141.6" cy="-11.0" rx="3.0" ry="3.4" fill="#efe8cf"/>
<ellipse cx="146.9" cy="-15.0" rx="3.0" ry="3.4" fill="#efe8cf"/>
<ellipse cx="153.0" cy="-15.0" rx="3.0" ry="3.4" fill="#efe8cf"/>
<ellipse cx="158.4" cy="-11.0" rx="3.0" ry="3.4" fill="#efe8cf"/>
<ellipse cx="161.4" cy="-4.1" rx="3.0" ry="3.4" fill="#efe8cf"/>
<ellipse cx="156.2" cy="0.0" rx="2.9" ry="3.3" fill="#efe8cf"/>
<ellipse cx="153.1" cy="7.1" rx="2.9" ry="3.3" fill="#efe8cf"/>
<ellipse cx="146.9" cy="7.1" rx="2.9" ry="3.3" fill="#efe8cf"/>
<ellipse cx="143.8" cy="0.0" rx="2.9" ry="3.3" fill="#efe8cf"/>
<ellipse cx="146.9" cy="-7.1" rx="2.9" ry="3.3" fill="#efe8cf"/>
<ellipse cx="153.1" cy="-7.1" rx="2.9" ry="3.3" fill="#efe8cf"/>
<g transform="translate(150.0 0) rotate(0.0)">
<line x1="0" y1="0" x2="28.0" y2="0" stroke="#c4c4c4" stroke-width="9" stroke-linecap="round"/>
<line x1="0" y1="-1.2" x2="28.0" y2="-1.2" stroke="#f8f8f8" stroke-width="6" stroke-linecap="round"/>
</g>
</g>
<g transform="translate(490.0 512.5) rotate(16.20)">
<defs>
<linearGradient id="wb2" x1="0" y1="-17.8" x2="0" y2="17.8" gradientUnits="userSpaceOnUse">
<stop offset="0.00" stop-color="#1a2250"/>
<stop offset="0.20" stop-color="#2a3a78"/>
<stop offset="0.40" stop-color="#2a4cb0"/>
<stop offset="0.60" stop-color="#2a66d8"/>
<stop offset="0.80" stop-color="#2a78e8"/>
<stop offset="0.92" stop-color="#1c4cb8"/>
<stop offset="1.00" stop-color="#0e1c60"/>
</linearGradient>
<linearGradient id="wh2" x1="0" y1="-17.8" x2="0" y2="17.8" gradientUnits="userSpaceOnUse">
<stop offset="0.00" stop-color="#8090b8" stop-opacity="0.50"/>
<stop offset="0.20" stop-color="#98a8d8" stop-opacity="0.70"/>
<stop offset="0.45" stop-color="#70a0f0" stop-opacity="0.85"/>
<stop offset="0.65" stop-color="#60e0ff" stop-opacity="1.00"/>
<stop offset="0.85" stop-color="#58c8ff" stop-opacity="0.95"/>
<stop offset="1.00" stop-color="#3060c0" stop-opacity="0.50"/>
</linearGradient>
<clipPath id="wc2"><path d="M0.0,-17.8 L142.4,-17.8 A12.5,17.8 0 0 1 142.4,17.8 L0.0,17.8 A8.9,17.8 0 0 1 0.0,-17.8 Z"/></clipPath></defs>
<ellipse cx="0.0" cy="0" rx="10.5" ry="19.4" fill="#0a0a0a" opacity="0.6"/>
<g clip-path="url(#wc2)">
<path d="M0.0,-17.8 L142.4,-17.8 A12.5,17.8 0 0 1 142.4,17.8 L0.0,17.8 A8.9,17.8 0 0 1 0.0,-17.8 Z" fill="#040a30"/>
<path d="M-72.3,-18.8 C-60.7,-8.0 -37.0,13.4 -8.2,18.8 M-64.1,-18.8 C-52.5,-8.0 -28.8,13.4 0.0,18.8 M-55.9,-18.8 C-44.3,-8.0 -20.6,13.4 8.2,18.8 M-47.7,-18.8 C-36.1,-8.0 -12.4,13.4 16.4,18.8 M-39.5,-18.8 C-27.9,-8.0 -4.2,13.4 24.6,18.8 M-31.3,-18.8 C-19.7,-8.0 4.0,13.4 32.8,18.8 M-23.1,-18.8 C-11.5,-8.0 12.2,13.4 41.0,18.8 M-14.9,-18.8 C-3.3,-8.0 20.4,13.4 49.2,18.8 M-6.7,-18.8 C4.9,-8.0 28.6,13.4 57.4,18.8 M1.5,-18.8 C13.1,-8.0 36.8,13.4 65.6,18.8 M9.7,-18.8 C21.3,-8.0 45.0,13.4 73.8,18.8 M17.9,-18.8 C29.5,-8.0 53.2,13.4 82.0,18.8 M26.1,-18.8 C37.7,-8.0 61.4,13.4 90.2,18.8 M34.3,-18.8 C45.9,-8.0 69.6,13.4 98.4,18.8 M42.5,-18.8 C54.1,-8.0 77.8,13.4 106.6,18.8 M50.7,-18.8 C62.3,-8.0 86.0,13.4 114.8,18.8 M58.9,-18.8 C70.5,-8.0 94.2,13.4 123.0,18.8 M67.1,-18.8 C78.7,-8.0 102.4,13.4 131.2,18.8 M75.3,-18.8 C86.9,-8.0 110.6,13.4 139.4,18.8 M83.5,-18.8 C95.1,-8.0 118.8,13.4 147.6,18.8 M91.7,-18.8 C103.3,-8.0 127.0,13.4 155.8,18.8 M99.9,-18.8 C111.5,-8.0 135.2,13.4 164.0,18.8 M108.1,-18.8 C119.7,-8.0 143.4,13.4 172.2,18.8 M116.3,-18.8 C127.9,-8.0 151.6,13.4 180.4,18.8 M124.5,-18.8 C136.1,-8.0 159.8,13.4 188.6,18.8 M132.7,-18.8 C144.3,-8.0 168.0,13.4 196.8,18.8 M140.9,-18.8 C152.5,-8.0 176.2,13.4 205.0,18.8 M149.1,-18.8 C160.7,-8.0 184.4,13.4 213.2,18.8" stroke="url(#wb2)" stroke-width="6.1" fill="none"/>
<path d="M-72.3,-18.8 C-60.7,-8.0 -37.0,13.4 -8.2,18.8 M-64.1,-18.8 C-52.5,-8.0 -28.8,13.4 0.0,18.8 M-55.9,-18.8 C-44.3,-8.0 -20.6,13.4 8.2,18.8 M-47.7,-18.8 C-36.1,-8.0 -12.4,13.4 16.4,18.8 M-39.5,-18.8 C-27.9,-8.0 -4.2,13.4 24.6,18.8 M-31.3,-18.8 C-19.7,-8.0 4.0,13.4 32.8,18.8 M-23.1,-18.8 C-11.5,-8.0 12.2,13.4 41.0,18.8 M-14.9,-18.8 C-3.3,-8.0 20.4,13.4 49.2,18.8 M-6.7,-18.8 C4.9,-8.0 28.6,13.4 57.4,18.8 M1.5,-18.8 C13.1,-8.0 36.8,13.4 65.6,18.8 M9.7,-18.8 C21.3,-8.0 45.0,13.4 73.8,18.8 M17.9,-18.8 C29.5,-8.0 53.2,13.4 82.0,18.8 M26.1,-18.8 C37.7,-8.0 61.4,13.4 90.2,18.8 M34.3,-18.8 C45.9,-8.0 69.6,13.4 98.4,18.8 M42.5,-18.8 C54.1,-8.0 77.8,13.4 106.6,18.8 M50.7,-18.8 C62.3,-8.0 86.0,13.4 114.8,18.8 M58.9,-18.8 C70.5,-8.0 94.2,13.4 123.0,18.8 M67.1,-18.8 C78.7,-8.0 102.4,13.4 131.2,18.8 M75.3,-18.8 C86.9,-8.0 110.6,13.4 139.4,18.8 M83.5,-18.8 C95.1,-8.0 118.8,13.4 147.6,18.8 M91.7,-18.8 C103.3,-8.0 127.0,13.4 155.8,18.8 M99.9,-18.8 C111.5,-8.0 135.2,13.4 164.0,18.8 M108.1,-18.8 C119.7,-8.0 143.4,13.4 172.2,18.8 M116.3,-18.8 C127.9,-8.0 151.6,13.4 180.4,18.8 M124.5,-18.8 C136.1,-8.0 159.8,13.4 188.6,18.8 M132.7,-18.8 C144.3,-8.0 168.0,13.4 196.8,18.8 M140.9,-18.8 C152.5,-8.0 176.2,13.4 205.0,18.8 M149.1,-18.8 C160.7,-8.0 184.4,13.4 213.2,18.8" stroke="url(#wh2)" stroke-width="1.6" fill="none" transform="translate(-1.3 -0.8)"/>
<path d="M-72.3,-18.8 C-60.7,-8.0 -37.0,13.4 -8.2,18.8 M-64.1,-18.8 C-52.5,-8.0 -28.8,13.4 0.0,18.8 M-55.9,-18.8 C-44.3,-8.0 -20.6,13.4 8.2,18.8 M-47.7,-18.8 C-36.1,-8.0 -12.4,13.4 16.4,18.8 M-39.5,-18.8 C-27.9,-8.0 -4.2,13.4 24.6,18.8 M-31.3,-18.8 C-19.7,-8.0 4.0,13.4 32.8,18.8 M-23.1,-18.8 C-11.5,-8.0 12.2,13.4 41.0,18.8 M-14.9,-18.8 C-3.3,-8.0 20.4,13.4 49.2,18.8 M-6.7,-18.8 C4.9,-8.0 28.6,13.4 57.4,18.8 M1.5,-18.8 C13.1,-8.0 36.8,13.4 65.6,18.8 M9.7,-18.8 C21.3,-8.0 45.0,13.4 73.8,18.8 M17.9,-18.8 C29.5,-8.0 53.2,13.4 82.0,18.8 M26.1,-18.8 C37.7,-8.0 61.4,13.4 90.2,18.8 M34.3,-18.8 C45.9,-8.0 69.6,13.4 98.4,18.8 M42.5,-18.8 C54.1,-8.0 77.8,13.4 106.6,18.8 M50.7,-18.8 C62.3,-8.0 86.0,13.4 114.8,18.8 M58.9,-18.8 C70.5,-8.0 94.2,13.4 123.0,18.8 M67.1,-18.8 C78.7,-8.0 102.4,13.4 131.2,18.8 M75.3,-18.8 C86.9,-8.0 110.6,13.4 139.4,18.8 M83.5,-18.8 C95.1,-8.0 118.8,13.4 147.6,18.8 M91.7,-18.8 C103.3,-8.0 127.0,13.4 155.8,18.8 M99.9,-18.8 C111.5,-8.0 135.2,13.4 164.0,18.8 M108.1,-18.8 C119.7,-8.0 143.4,13.4 172.2,18.8 M116.3,-18.8 C127.9,-8.0 151.6,13.4 180.4,18.8 M124.5,-18.8 C136.1,-8.0 159.8,13.4 188.6,18.8 M132.7,-18.8 C144.3,-8.0 168.0,13.4 196.8,18.8 M140.9,-18.8 C152.5,-8.0 176.2,13.4 205.0,18.8 M149.1,-18.8 C160.7,-8.0 184.4,13.4 213.2,18.8" stroke="url(#wh2)" stroke-width="1.0" fill="none" opacity="0.45" transform="translate(1.5 0.6)"/>
<path d="M0.0,-17.8 A8.9,17.8 0 0 0 0.0,17.8" fill="none" stroke="#000" stroke-opacity="0.55" stroke-width="4"/>
</g>
<ellipse cx="142.4" cy="0" rx="14.2" ry="18.7" fill="#0a1660"/>
<ellipse cx="152.9" cy="3.7" rx="2.7" ry="3.1" fill="#f6e4de"/>
<ellipse cx="150.1" cy="10.0" rx="2.7" ry="3.1" fill="#f6e4de"/>
<ellipse cx="145.2" cy="13.7" rx="2.7" ry="3.1" fill="#f6e4de"/>
<ellipse cx="139.6" cy="13.7" rx="2.7" ry="3.1" fill="#f6e4de"/>
<ellipse cx="134.8" cy="10.1" rx="2.7" ry="3.1" fill="#f6e4de"/>
<ellipse cx="132.0" cy="3.7" rx="2.7" ry="3.1" fill="#f6e4de"/>
<ellipse cx="131.9" cy="-3.7" rx="2.7" ry="3.1" fill="#f6e4de"/>
<ellipse cx="134.7" cy="-10.0" rx="2.7" ry="3.1" fill="#f6e4de"/>
<ellipse cx="139.6" cy="-13.7" rx="2.7" ry="3.1" fill="#f6e4de"/>
<ellipse cx="145.2" cy="-13.7" rx="2.7" ry="3.1" fill="#f6e4de"/>
<ellipse cx="150.0" cy="-10.1" rx="2.7" ry="3.1" fill="#f6e4de"/>
<ellipse cx="152.8" cy="-3.7" rx="2.7" ry="3.1" fill="#f6e4de"/>
<ellipse cx="148.1" cy="0.0" rx="2.6" ry="3.0" fill="#f6e4de"/>
<ellipse cx="145.2" cy="6.5" rx="2.6" ry="3.0" fill="#f6e4de"/>
<ellipse cx="139.6" cy="6.5" rx="2.6" ry="3.0" fill="#f6e4de"/>
<ellipse cx="136.7" cy="0.0" rx="2.6" ry="3.0" fill="#f6e4de"/>
<ellipse cx="139.6" cy="-6.5" rx="2.6" ry="3.0" fill="#f6e4de"/>
<ellipse cx="145.2" cy="-6.5" rx="2.6" ry="3.0" fill="#f6e4de"/>
<g transform="translate(142.4 0) rotate(6.0)">
<line x1="0" y1="0" x2="22.0" y2="0" stroke="#c4c4c4" stroke-width="9" stroke-linecap="round"/>
<line x1="0" y1="-1.2" x2="22.0" y2="-1.2" stroke="#f8f8f8" stroke-width="6" stroke-linecap="round"/>
</g>
</g>
<g transform="translate(455.5 548.0) rotate(15.20)">
<defs>
<linearGradient id="wb3" x1="0" y1="-18.0" x2="0" y2="18.0" gradientUnits="userSpaceOnUse">
<stop offset="0.00" stop-color="#3a1830"/>
<stop offset="0.12" stop-color="#5a2038"/>
<stop offset="0.30" stop-color="#a01e26"/>
<stop offset="0.55" stop-color="#d42a2a"/>
<stop offset="0.80" stop-color="#e43838"/>
<stop offset="0.92" stop-color="#a01818"/>
<stop offset="1.00" stop-color="#400a0a"/>
</linearGradient>
<linearGradient id="wh3" x1="0" y1="-18.0" x2="0" y2="18.0" gradientUnits="userSpaceOnUse">
<stop offset="0.00" stop-color="#9080b0" stop-opacity="0.50"/>
<stop offset="0.12" stop-color="#b088b8" stop-opacity="0.60"/>
<stop offset="0.30" stop-color="#ff7878" stop-opacity="0.80"/>
<stop offset="0.60" stop-color="#ffa0a0" stop-opacity="0.95"/>
<stop offset="0.85" stop-color="#ff7070" stop-opacity="0.80"/>
<stop offset="1.00" stop-color="#a02020" stop-opacity="0.40"/>
</linearGradient>
<clipPath id="wc3"><path d="M0.0,-18.0 L99.0,-18.0 A12.6,18.0 0 0 1 99.0,18.0 L0.0,18.0 A9.0,18.0 0 0 1 0.0,-18.0 Z"/></clipPath></defs>
<ellipse cx="0.0" cy="0" rx="10.6" ry="19.6" fill="#0a0a0a" opacity="0.6"/>
<g clip-path="url(#wc3)">
<path d="M0.0,-18.0 L99.0,-18.0 A12.6,18.0 0 0 1 99.0,18.0 L0.0,18.0 A9.0,18.0 0 0 1 0.0,-18.0 Z" fill="#1c0306"/>
<path d="M-73.0,-19.0 C-61.3,-8.1 -37.4,13.5 -8.2,19.0 M-64.8,-19.0 C-53.1,-8.1 -29.2,13.5 0.0,19.0 M-56.6,-19.0 C-44.9,-8.1 -21.0,13.5 8.2,19.0 M-48.4,-19.0 C-36.7,-8.1 -12.8,13.5 16.4,19.0 M-40.2,-19.0 C-28.5,-8.1 -4.6,13.5 24.6,19.0 M-32.0,-19.0 C-20.3,-8.1 3.6,13.5 32.8,19.0 M-23.8,-19.0 C-12.1,-8.1 11.8,13.5 41.0,19.0 M-15.6,-19.0 C-3.9,-8.1 20.0,13.5 49.2,19.0 M-7.4,-19.0 C4.3,-8.1 28.2,13.5 57.4,19.0 M0.8,-19.0 C12.5,-8.1 36.4,13.5 65.6,19.0 M9.0,-19.0 C20.7,-8.1 44.6,13.5 73.8,19.0 M17.2,-19.0 C28.9,-8.1 52.8,13.5 82.0,19.0 M25.4,-19.0 C37.1,-8.1 61.0,13.5 90.2,19.0 M33.6,-19.0 C45.3,-8.1 69.2,13.5 98.4,19.0 M41.8,-19.0 C53.5,-8.1 77.4,13.5 106.6,19.0 M50.0,-19.0 C61.7,-8.1 85.6,13.5 114.8,19.0 M58.2,-19.0 C69.9,-8.1 93.8,13.5 123.0,19.0 M66.4,-19.0 C78.1,-8.1 102.0,13.5 131.2,19.0 M74.6,-19.0 C86.3,-8.1 110.2,13.5 139.4,19.0 M82.8,-19.0 C94.5,-8.1 118.4,13.5 147.6,19.0 M91.0,-19.0 C102.7,-8.1 126.6,13.5 155.8,19.0 M99.2,-19.0 C110.9,-8.1 134.8,13.5 164.0,19.0 M107.4,-19.0 C119.1,-8.1 143.0,13.5 172.2,19.0" stroke="url(#wb3)" stroke-width="6.1" fill="none"/>
<path d="M-73.0,-19.0 C-61.3,-8.1 -37.4,13.5 -8.2,19.0 M-64.8,-19.0 C-53.1,-8.1 -29.2,13.5 0.0,19.0 M-56.6,-19.0 C-44.9,-8.1 -21.0,13.5 8.2,19.0 M-48.4,-19.0 C-36.7,-8.1 -12.8,13.5 16.4,19.0 M-40.2,-19.0 C-28.5,-8.1 -4.6,13.5 24.6,19.0 M-32.0,-19.0 C-20.3,-8.1 3.6,13.5 32.8,19.0 M-23.8,-19.0 C-12.1,-8.1 11.8,13.5 41.0,19.0 M-15.6,-19.0 C-3.9,-8.1 20.0,13.5 49.2,19.0 M-7.4,-19.0 C4.3,-8.1 28.2,13.5 57.4,19.0 M0.8,-19.0 C12.5,-8.1 36.4,13.5 65.6,19.0 M9.0,-19.0 C20.7,-8.1 44.6,13.5 73.8,19.0 M17.2,-19.0 C28.9,-8.1 52.8,13.5 82.0,19.0 M25.4,-19.0 C37.1,-8.1 61.0,13.5 90.2,19.0 M33.6,-19.0 C45.3,-8.1 69.2,13.5 98.4,19.0 M41.8,-19.0 C53.5,-8.1 77.4,13.5 106.6,19.0 M50.0,-19.0 C61.7,-8.1 85.6,13.5 114.8,19.0 M58.2,-19.0 C69.9,-8.1 93.8,13.5 123.0,19.0 M66.4,-19.0 C78.1,-8.1 102.0,13.5 131.2,19.0 M74.6,-19.0 C86.3,-8.1 110.2,13.5 139.4,19.0 M82.8,-19.0 C94.5,-8.1 118.4,13.5 147.6,19.0 M91.0,-19.0 C102.7,-8.1 126.6,13.5 155.8,19.0 M99.2,-19.0 C110.9,-8.1 134.8,13.5 164.0,19.0 M107.4,-19.0 C119.1,-8.1 143.0,13.5 172.2,19.0" stroke="url(#wh3)" stroke-width="1.6" fill="none" transform="translate(-1.3 -0.8)"/>
<path d="M-73.0,-19.0 C-61.3,-8.1 -37.4,13.5 -8.2,19.0 M-64.8,-19.0 C-53.1,-8.1 -29.2,13.5 0.0,19.0 M-56.6,-19.0 C-44.9,-8.1 -21.0,13.5 8.2,19.0 M-48.4,-19.0 C-36.7,-8.1 -12.8,13.5 16.4,19.0 M-40.2,-19.0 C-28.5,-8.1 -4.6,13.5 24.6,19.0 M-32.0,-19.0 C-20.3,-8.1 3.6,13.5 32.8,19.0 M-23.8,-19.0 C-12.1,-8.1 11.8,13.5 41.0,19.0 M-15.6,-19.0 C-3.9,-8.1 20.0,13.5 49.2,19.0 M-7.4,-19.0 C4.3,-8.1 28.2,13.5 57.4,19.0 M0.8,-19.0 C12.5,-8.1 36.4,13.5 65.6,19.0 M9.0,-19.0 C20.7,-8.1 44.6,13.5 73.8,19.0 M17.2,-19.0 C28.9,-8.1 52.8,13.5 82.0,19.0 M25.4,-19.0 C37.1,-8.1 61.0,13.5 90.2,19.0 M33.6,-19.0 C45.3,-8.1 69.2,13.5 98.4,19.0 M41.8,-19.0 C53.5,-8.1 77.4,13.5 106.6,19.0 M50.0,-19.0 C61.7,-8.1 85.6,13.5 114.8,19.0 M58.2,-19.0 C69.9,-8.1 93.8,13.5 123.0,19.0 M66.4,-19.0 C78.1,-8.1 102.0,13.5 131.2,19.0 M74.6,-19.0 C86.3,-8.1 110.2,13.5 139.4,19.0 M82.8,-19.0 C94.5,-8.1 118.4,13.5 147.6,19.0 M91.0,-19.0 C102.7,-8.1 126.6,13.5 155.8,19.0 M99.2,-19.0 C110.9,-8.1 134.8,13.5 164.0,19.0 M107.4,-19.0 C119.1,-8.1 143.0,13.5 172.2,19.0" stroke="url(#wh3)" stroke-width="1.0" fill="none" opacity="0.45" transform="translate(1.5 0.6)"/>
<path d="M0.0,-18.0 A9.0,18.0 0 0 0 0.0,18.0" fill="none" stroke="#000" stroke-opacity="0.55" stroke-width="4"/>
</g>
<ellipse cx="99.0" cy="0" rx="14.4" ry="18.9" fill="#5a1010"/>
<ellipse cx="109.6" cy="3.7" rx="2.8" ry="3.1" fill="#a8d868"/>
<ellipse cx="106.8" cy="10.1" rx="2.8" ry="3.1" fill="#a8d868"/>
<ellipse cx="101.9" cy="13.9" rx="2.8" ry="3.1" fill="#f0dcc8"/>
<ellipse cx="96.2" cy="13.9" rx="2.8" ry="3.1" fill="#f0dcc8"/>
<ellipse cx="91.3" cy="10.2" rx="2.8" ry="3.1" fill="#f0dcc8"/>
<ellipse cx="88.4" cy="3.7" rx="2.8" ry="3.1" fill="#f0dcc8"/>
<ellipse cx="88.4" cy="-3.7" rx="2.8" ry="3.1" fill="#a8d868"/>
<ellipse cx="91.2" cy="-10.1" rx="2.8" ry="3.1" fill="#a8d868"/>
<ellipse cx="96.1" cy="-13.9" rx="2.8" ry="3.1" fill="#a8d868"/>
<ellipse cx="101.8" cy="-13.9" rx="2.8" ry="3.1" fill="#a8d868"/>
<ellipse cx="106.7" cy="-10.2" rx="2.8" ry="3.1" fill="#a8d868"/>
<ellipse cx="109.6" cy="-3.7" rx="2.8" ry="3.1" fill="#a8d868"/>
<ellipse cx="104.8" cy="0.0" rx="2.7" ry="3.0" fill="#a8d868"/>
<ellipse cx="101.9" cy="6.5" rx="2.7" ry="3.0" fill="#f0dcc8"/>
<ellipse cx="96.1" cy="6.5" rx="2.7" ry="3.0" fill="#f0dcc8"/>
<ellipse cx="93.2" cy="0.0" rx="2.7" ry="3.0" fill="#a8d868"/>
<ellipse cx="96.1" cy="-6.5" rx="2.7" ry="3.0" fill="#a8d868"/>
<ellipse cx="101.9" cy="-6.5" rx="2.7" ry="3.0" fill="#a8d868"/>
<g transform="translate(99.0 0) rotate(0.0)">
<line x1="0" y1="0" x2="30.0" y2="0" stroke="#c4c4c4" stroke-width="9" stroke-linecap="round"/>
<line x1="0" y1="-1.2" x2="30.0" y2="-1.2" stroke="#f8f8f8" stroke-width="6" stroke-linecap="round"/>
</g>
</g>
<line x1="185" y1="539" x2="185" y2="646.5" stroke="#5a9ed6" stroke-width="2.1"/>
<ellipse cx="185.3" cy="538.6" rx="7.4" ry="6.4" fill="#2a90f0" opacity="0.92"/><ellipse cx="185.3" cy="538.6" rx="4.2" ry="3.8" fill="#0a88f4"/>
<line x1="527" y1="568" x2="527" y2="676" stroke="#5a9ed6" stroke-width="2.1"/>
<ellipse cx="527.4" cy="568" rx="7.2" ry="6.5" fill="#2a88ea" opacity="0.92"/><ellipse cx="527.4" cy="568" rx="4.2" ry="3.8" fill="#0a88f4"/>
<line x1="652.5" y1="453" x2="652.5" y2="560" stroke="#4a8cbc" stroke-width="1.6"/>
<ellipse cx="652.2" cy="560.4" rx="7.1" ry="6.2" fill="#3a9cf0" opacity="0.85"/><ellipse cx="652.2" cy="560.4" rx="3.6" ry="3.2" fill="#0a88f4"/>
<text transform="translate(161.6 686) scale(1.06 1)" x="0" y="0" font-size="22" fill="#1c1c1c" textLength="45.28" lengthAdjust="spacing">PVC</text>
<text transform="translate(455 715.5) scale(1.07 1)" x="0" y="0" font-size="22" fill="#1c1c1c" textLength="137.85" lengthAdjust="spacing">Aluminum foil</text>
<text transform="translate(554.6 428) scale(1.06 1)" x="0" y="0" font-size="22" fill="#1c1c1c" textLength="182.92" lengthAdjust="spacing">Enamelled Copper</text>
</svg></body></html>
